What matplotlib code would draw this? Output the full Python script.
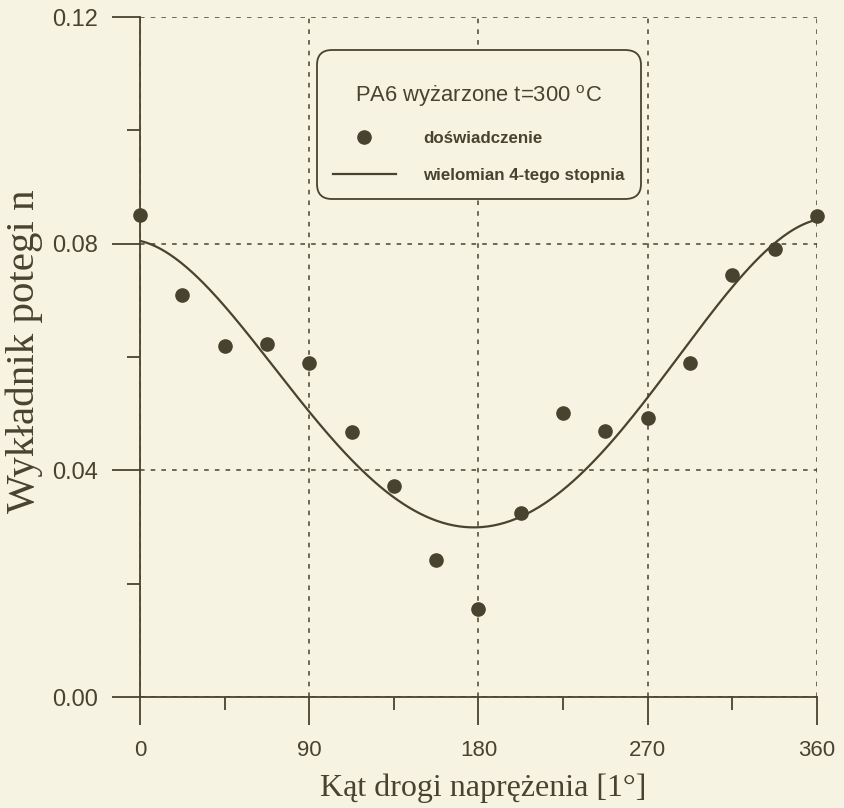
import numpy as np
import matplotlib
matplotlib.use("Agg")
import matplotlib.pyplot as plt
from matplotlib import ticker
from matplotlib.lines import Line2D

# kat drogi naprezenia [deg] i zmierzony wykladnik potegi n
kat = [0, 22.5, 45, 67.5, 90, 112.5, 135, 157.5, 180,
       202.5, 225, 247.5, 270, 292.5, 315, 337.5, 360]
wykladnik = [0.0850, 0.0709, 0.0619, 0.0623, 0.0590, 0.0467, 0.0372, 0.0241, 0.0156,
             0.0325, 0.0501, 0.0469, 0.0493, 0.0589, 0.0745, 0.0791, 0.0848]

x_ticks = [0, 90, 180, 270, 360]
y_ticks = [0.00, 0.04, 0.08, 0.12]

tytul_legendy = "PA6 wyżarzone t=300 $^{\\mathrm{o}}$C"
etykiety = ["doświadczenie", "wielomian 4-tego stopnia"]

BG = "#f6f3e2"
INK = "#47432f"

plt.rcParams["mathtext.fontset"] = "custom"
plt.rcParams["mathtext.rm"] = "Liberation Sans"

W, H = 845, 808
fig = plt.figure(figsize=(W / 100, H / 100), dpi=100, facecolor=BG)
ax = fig.add_axes([140 / W, 1 - 697 / H, 677 / W, 680 / H])
ax.set_facecolor(BG)

# wielomian 4-tego stopnia dopasowany do pomiarow
wsp = np.polyfit(kat, wykladnik, 4)
xx = np.linspace(0, 360, 361)
ax.plot(xx, np.polyval(wsp, xx), color=INK, lw=1.6, zorder=3)
ax.plot(kat, wykladnik, "o", color=INK, ms=9.5, clip_on=False, zorder=4)

ax.set_xlim(0, 360)
ax.set_ylim(0, 0.12)
ax.set_xticks(x_ticks)
ax.set_yticks(y_ticks)
ax.xaxis.set_minor_locator(ticker.MultipleLocator(45))
ax.yaxis.set_minor_locator(ticker.MultipleLocator(0.02))
ax.yaxis.set_major_formatter(ticker.FormatStrFormatter("%.2f"))

for s in ["top", "right"]:
    ax.spines[s].set_visible(False)
for s in ["left", "bottom"]:
    ax.spines[s].set_color(INK)
    ax.spines[s].set_linewidth(1.3)

ax.tick_params(which="major", direction="out", length=20, width=1.3, color=INK,
               labelcolor=INK, pad=11)
ax.tick_params(which="minor", direction="out", length=9.5, width=1.3, color=INK)
ax.tick_params(axis="x", which="major", labelsize=16)
ax.tick_params(axis="y", which="major", labelsize=17, pad=10)
for lab in ax.get_xticklabels() + ax.get_yticklabels():
    lab.set_fontfamily("Liberation Sans")

ax.grid(True, which="major", color=INK, lw=1.1, linestyle=(0, (3, 4)))
ax.set_axisbelow(True)

fig.text(483 / W, 1 - 788 / H, "Kąt drogi naprężenia [1°]", ha="center", va="center",
         fontsize=23, family="Liberation Serif", color=INK)
fig.text(24 / W, 1 - 351 / H, "Wykładnik potegi n", ha="center", va="center",
         rotation=90, fontsize=29.5, family="Liberation Serif", color=INK)

uchwyty = [Line2D([], [], ls="none", marker="o", ms=9.5, color=INK),
           Line2D([], [], color=INK, lw=1.6)]
leg = ax.legend(uchwyty, etykiety, title="\n" + tytul_legendy, loc="upper left",
                bbox_to_anchor=(317 / W, 1 - 50 / H), bbox_transform=fig.transFigure,
                borderaxespad=0, frameon=True, fancybox=True, framealpha=1,
                facecolor=BG, edgecolor=INK, numpoints=1,
                prop={"family": "Liberation Sans", "weight": "bold", "size": 12.2},
                title_fontproperties={"family": "Liberation Sans", "size": 15.8},
                borderpad=0.95, labelspacing=1.3, handlelength=3.7, handletextpad=1.6)
leg.get_frame().set_linewidth(1.3)
leg.get_frame().set_boxstyle("round", pad=0, rounding_size=0.9)
leg.get_title().set_color(INK)
leg.get_title().set_linespacing(0.8)
for t in leg.get_texts():
    t.set_color(INK)
leg.set_zorder(5)

fig.savefig("out.png", dpi=100, facecolor=BG)
